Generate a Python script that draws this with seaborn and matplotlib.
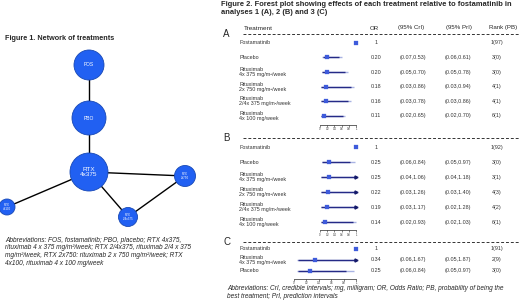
import numpy as np
import matplotlib
matplotlib.use("Agg")
from matplotlib import pyplot as plt
from matplotlib import transforms as mtransforms
from matplotlib.patches import Circle
import seaborn as sns

sns.set_style("white")
plt.rcParams['font.family'] = ['Liberation Sans', 'DejaVu Sans']

#### Figure 1: network data
nodes = ["FOS", "PBO", "RTX\n4x375", "RTX\n4x100", "RTX\n2/4x375", "RTX\n2x750"]
node_x = [89, 89, 89, 7, 128, 185]
node_y = [65, 118, 172, 207, 217, 176]
node_r = [15, 17, 19, 8, 9.5, 10.5]
edges = [(0, 1), (1, 2), (2, 3), (2, 4), (2, 5), (4, 5)]

fig1_abbrev = ["Abbreviations: FOS, fostamatinib; PBO, placebo; RTX 4x375,",
               "rituximab 4 x 375 mg/m²/week; RTX 2/4x375, rituximab 2/4 x 375",
               "mg/m²/week, RTX 2x750: rituximab 2 x 750 mg/m²/week; RTX",
               "4x100, rituximab 4 x 100 mg/week"]

#### Figure 2: forest plot data
lab6 = ["Fostamatinib", "Placebo", "Rituximab\n4x 375 mg/m²/week", "Rituximab\n2x 750 mg/m²/week",
        "Rituximab\n2/4x 375 mg/m²/week", "Rituximab\n4x 100 mg/week"]

treat_A = lab6
or_A = [1, 0.20, 0.20, 0.18, 0.16, 0.11]
crlo_A = [np.nan, 0.07, 0.05, 0.03, 0.03, 0.02]
crhi_A = [np.nan, 0.53, 0.70, 0.86, 0.78, 0.65]
prlo_A = [np.nan, 0.06, 0.05, 0.03, 0.03, 0.02]
prhi_A = [np.nan, 0.61, 0.78, 0.94, 0.86, 0.70]
rank_A = ["1(97)", "3(0)", "3(0)", "4(1)", "4(1)", "6(1)"]

treat_B = lab6
or_B = [1, 0.25, 0.25, 0.22, 0.19, 0.14]
crlo_B = [np.nan, 0.06, 0.04, 0.03, 0.03, 0.02]
crhi_B = [np.nan, 0.84, 1.06, 1.26, 1.17, 0.93]
prlo_B = [np.nan, 0.05, 0.04, 0.03, 0.02, 0.02]
prhi_B = [np.nan, 0.97, 1.18, 1.40, 1.28, 1.03]
rank_B = ["1(92)", "3(0)", "3(1)", "4(3)", "4(2)", "6(1)"]

treat_C = ["Fostamatinib", "Rituximab\n4x 375 mg/m²/week", "Placebo"]
or_C = [1, 0.34, 0.25]
crlo_C = [np.nan, 0.06, 0.06]
crhi_C = [np.nan, 1.67, 0.84]
prlo_C = [np.nan, 0.05, 0.05]
prhi_C = [np.nan, 1.87, 0.97]
rank_C = ["1(91)", "2(9)", "3(0)"]

fig2_abbrev = ["Abbreviations: CrI, credible intervals; mg, milligram; OR, Odds Ratio; PB, probability of being the",
               "best treatment; PrI, prediction intervals"]

W, H = 520, 305
fig = plt.figure(figsize=(W / 100, H / 100), dpi=100)
bg = fig.add_axes([0, 0, 1, 1])
bg.set_xlim(0, W)
bg.set_ylim(H, 0)
bg.axis('off')

# network
for a, b in edges:
    bg.plot([node_x[a], node_x[b]], [node_y[a], node_y[b]], color='black', lw=1.0, zorder=1)
lab_fs = [3.6, 3.6, 4.6, 2.2, 2.2, 2.2]
for i, n in enumerate(nodes):
    bg.add_patch(Circle((node_x[i], node_y[i]), node_r[i], facecolor='#2160F2', edgecolor='#1748B5', lw=0.6, zorder=2))
    bg.text(node_x[i], node_y[i], n, color='white', fontsize=lab_fs[i], ha='center', va='center',
            linespacing=1.0, zorder=3)
bg.text(5, 38, "Figure 1. Network of treatments", fontsize=5.2, fontweight='bold', va='center')
for i, line in enumerate(fig1_abbrev):
    bg.text(5, 240 + i * 7.8, line, fontsize=4.7, style='italic', va='center')

bg.text(221, 4, "Figure 2. Forest plot showing effects of each treatment relative to fostamatinib in",
        fontsize=5.4, fontweight='bold', va='center')
bg.text(221, 12.5, "analyses 1 (A), 2 (B) and 3 (C)", fontsize=5.4, fontweight='bold', va='center')
for i, line in enumerate(fig2_abbrev):
    bg.text(227, 289 + i * 7.5, line, fontsize=4.7, style='italic', va='center')

# header
hdr_y = 28
bg.text(244, hdr_y, "Treatment", fontsize=4.6, va='center')
bg.text(374, hdr_y, "OR", fontsize=4.4, ha='center', va='center')
bg.text(411, hdr_y, "(95% CrI)", fontsize=4.4, ha='center', va='center')
bg.text(459, hdr_y, "(95% PrI)", fontsize=4.4, ha='center', va='center')
bg.text(503, hdr_y, "Rank (PB)", fontsize=4.4, ha='center', va='center')
for yy, letter in zip([34, 138, 242], "ABC"):
    bg.plot([243, 520], [yy, yy], color='#333333', lw=0.7, ls=(0, (3, 2)))
    bg.text(223, yy, letter, fontsize=7, va='center')

def panel(rect, ylim, treat, orv, crlo, crhi, prlo, prhi, rank):
    ax = fig.add_axes([rect[0] / W, 1 - rect[3] / H, (rect[2] - rect[0]) / W, (rect[3] - rect[1]) / H])
    ax.patch.set_alpha(0)
    rows = np.arange(len(treat))
    ax.set_xlim(0, 1)
    ax.set_ylim(*ylim)
    ax.axvline(1, color='#d6d6d6', lw=0.6, zorder=0)
    for r in rows[1:]:
        hi_cr = min(crhi[r], 1)
        hi_pr = min(prhi[r], 1)
        ax.hlines(r, prlo[r], hi_pr, color='#a9b3e3', lw=1.0, clip_on=False, zorder=1)
        ax.hlines(r, crlo[r], hi_cr, color='#252a86', lw=1.0, clip_on=False, zorder=2)
        if crhi[r] > 1:
            ax.plot(1, r, marker='>', color='#151a6a', ms=2.2, clip_on=False, zorder=3)
    sns.scatterplot(x=orv, y=rows, marker='s', s=9, color='#3e5bdb', edgecolor='#3e5bdb',
                    linewidth=0.2, ax=ax, clip_on=False, zorder=4, legend=False)
    sns.despine(ax=ax, left=True)
    ax.spines['bottom'].set_linewidth(0.5)
    ax.set_yticks([])
    ax.set_xticks([0, 0.2, 0.4, 0.6, 0.8, 1])
    ax.set_xticklabels(["0", "0.2", "0.4", "0.6", "0.8", "1"])
    ax.tick_params(axis='x', labelsize=1.8, length=1.2, width=0.4, pad=0.6, bottom=True)
    tr = mtransforms.blended_transform_factory(bg.transData, ax.transData)
    for r in rows:
        ax.text(239, r, treat[r], transform=tr, fontsize=3.9, color='#333333', va='center', linespacing=1.05)
        ax.text(376, r, "1" if orv[r] == 1 else f"{orv[r]:.2f}", transform=tr, fontsize=3.9,
                color='#333333', ha='center', va='center')
        if r > 0:
            ax.text(413, r, f"({crlo[r]:.2f},{crhi[r]:.2f})", transform=tr, fontsize=3.9,
                    color='#333333', ha='center', va='center')
            ax.text(458, r, f"({prlo[r]:.2f},{prhi[r]:.2f})", transform=tr, fontsize=3.9,
                    color='#333333', ha='center', va='center')
        ax.text(497, r, rank[r], transform=tr, fontsize=3.9, color='#333333', ha='center', va='center')
    return ax

panel((320, 37, 356, 125), (5.62, -0.4), treat_A, or_A, crlo_A, crhi_A, prlo_A, prhi_A, rank_A)
panel((320, 141, 356, 230), (5.53, -0.4), treat_B, or_B, crlo_B, crhi_B, prlo_B, prhi_B, rank_B)
panel((294, 244.6, 356, 279), (2.73, -0.4), treat_C, or_C, crlo_C, crhi_C, prlo_C, prhi_C, rank_C)

fig.savefig("out.png", dpi=100)
